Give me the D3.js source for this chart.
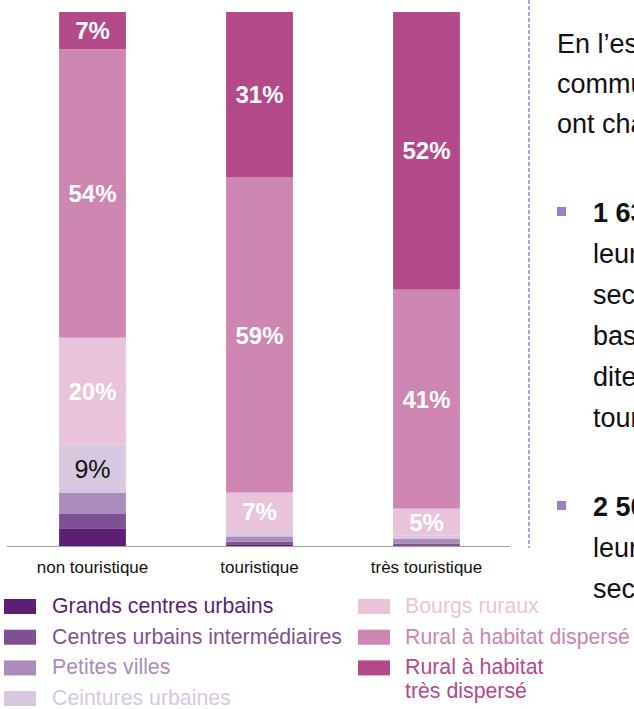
<!DOCTYPE html>
<html>
<head>
<meta charset="utf-8">
<script src="https://cdn.jsdelivr.net/npm/d3@7"></script>
<style>
  html, body { margin: 0; padding: 0; background: #fff; overflow: hidden; }
  svg { display: block; font-family: "Liberation Sans", Arial, sans-serif; }
</style>
</head>
<body>
<svg id="chart" width="634" height="709"></svg>
<script>
// ---- data ----
const categories = ["non touristique", "touristique", "très touristique"];
const seriesNames = ["Grands centres urbains", "Centres urbains intermédiaires", "Petites villes",
  "Ceintures urbaines", "Bourgs ruraux", "Rural à habitat dispersé", "Rural à habitat très dispersé"];
const grandsCentres      = [3.2, 0.2, 0.0];
const centresInter       = [2.8, 0.6, 0.4];
const petitesVilles      = [4.0, 1.0, 1.0];
const ceintures          = [9, 1.2, 0.6];
const bourgs             = [20, 7, 5];
const ruralDisperse      = [54, 59, 41];
const ruralTresDisperse  = [7, 31, 52];
const seriesColors = ["#5c1f73", "#7f5194", "#aa8bba", "#d7c7df", "#e8c3da", "#cd86b1", "#b24a8a"];

const seriesValues = [grandsCentres, centresInter, petitesVilles, ceintures, bourgs, ruralDisperse, ruralTresDisperse];
const table = categories.map((c, i) => {
  const row = { cat: c };
  seriesNames.forEach((s, j) => row[s] = seriesValues[j][i]);
  return row;
});

const svg = d3.select("#chart");

const x = d3.scaleBand().domain(categories).range([9, 510]).paddingInner(0.6).paddingOuter(0.3);
const y = d3.scaleLinear().domain([0, 100]).range([546, 12]);

const stack = d3.stack().keys(seriesNames);
const stacked = stack(table);

const g = svg.append("g");
stacked.forEach((layer, j) => {
  g.selectAll(null).data(layer).join("rect")
    .attr("x", d => x(d.data.cat))
    .attr("width", x.bandwidth())
    .attr("y", d => y(d[1]))
    .attr("height", d => y(d[0]) - y(d[1]))
    .attr("fill", seriesColors[j]);
});

// value labels
stacked.forEach((layer, j) => {
  layer.forEach(d => {
    const v = d[1] - d[0];
    if (v < 5) return;
    const dark = seriesNames[j] === "Ceintures urbaines";
    g.append("text")
      .attr("x", x(d.data.cat) + x.bandwidth() / 2)
      .attr("y", (y(d[0]) + y(d[1])) / 2)
      .attr("dy", "0.36em")
      .attr("text-anchor", "middle")
      .attr("font-size", dark ? 25 : 24)
      .attr("font-weight", dark ? "normal" : "bold")
      .attr("fill", dark ? "#111" : "#fff")
      .text(Math.round(v) + "%");
  });
});

// axis
const axis = svg.append("g").attr("transform", "translate(0,546)")
  .call(d3.axisBottom(x).tickSize(0).tickPadding(15));
axis.select(".domain").attr("d", "M7,0.5H510").attr("stroke", "#a0a0a0").attr("stroke-width", 1.2);
axis.selectAll(".tick text").attr("font-size", 17).attr("fill", "#111")
  .attr("font-family", "'Liberation Sans', Arial, sans-serif");

// dashed separator
svg.append("line").attr("x1", 529).attr("x2", 529).attr("y1", 0).attr("y2", 548)
  .attr("stroke", "#9b86c4").attr("stroke-width", 1.5).attr("stroke-dasharray", "4,2");

// legend
const legendCol = [
  { x: 4, tx: 52 }, { x: 358, tx: 405 }
];
const legendItems = [
  { s: 0, col: 0, row: 0 }, { s: 1, col: 0, row: 1 }, { s: 2, col: 0, row: 2 }, { s: 3, col: 0, row: 3 },
  { s: 4, col: 1, row: 0 }, { s: 5, col: 1, row: 1 }, { s: 6, col: 1, row: 2 }
];
const leg = svg.append("g");
legendItems.forEach(it => {
  const yy = 599 + it.row * 30.7;
  leg.append("rect").attr("x", legendCol[it.col].x).attr("y", yy).attr("width", 32).attr("height", 15)
    .attr("fill", seriesColors[it.s]);
  const name = seriesNames[it.s];
  const lines = name === "Rural à habitat très dispersé" ? ["Rural à habitat", "très dispersé"] : [name];
  lines.forEach((ln, k) => {
    leg.append("text").attr("x", legendCol[it.col].tx).attr("y", yy + 14 + k * 24)
      .attr("font-size", 21.3).attr("fill", seriesColors[it.s]).text(ln);
  });
});

// right-side text (clipped by the window edge, as in the original slide)
const side = svg.append("g").attr("font-size", 27).attr("fill", "#111");
const introLines = ["En l’espace de dix ans, les", "communes touristiques", "ont changé de profil :"];
introLines.forEach((t, i) => side.append("text").attr("x", 557).attr("y", 53 + i * 40).text(t));

const bullets = [
  { y: 222, bold: "1 632 communes", lines: ["leur part de résidences", "secondaires augmenter,", "basculant dans la catégorie", "dite « touristique » ou « très", "touristique »"] },
  { y: 516, bold: "2 508 communes", lines: ["leur part de résidences", "secondaires diminuer"] }
];
bullets.forEach(b => {
  side.append("rect").attr("x", 557).attr("y", b.y - 15).attr("width", 9).attr("height", 9).attr("fill", "#9b7fc0");
  side.append("text").attr("x", 593).attr("y", b.y).attr("font-weight", "bold").text(b.bold + " ont vu");
  b.lines.forEach((t, i) => side.append("text").attr("x", 593).attr("y", b.y + 41 * (i + 1)).text(t));
});
</script>
</body>
</html>
